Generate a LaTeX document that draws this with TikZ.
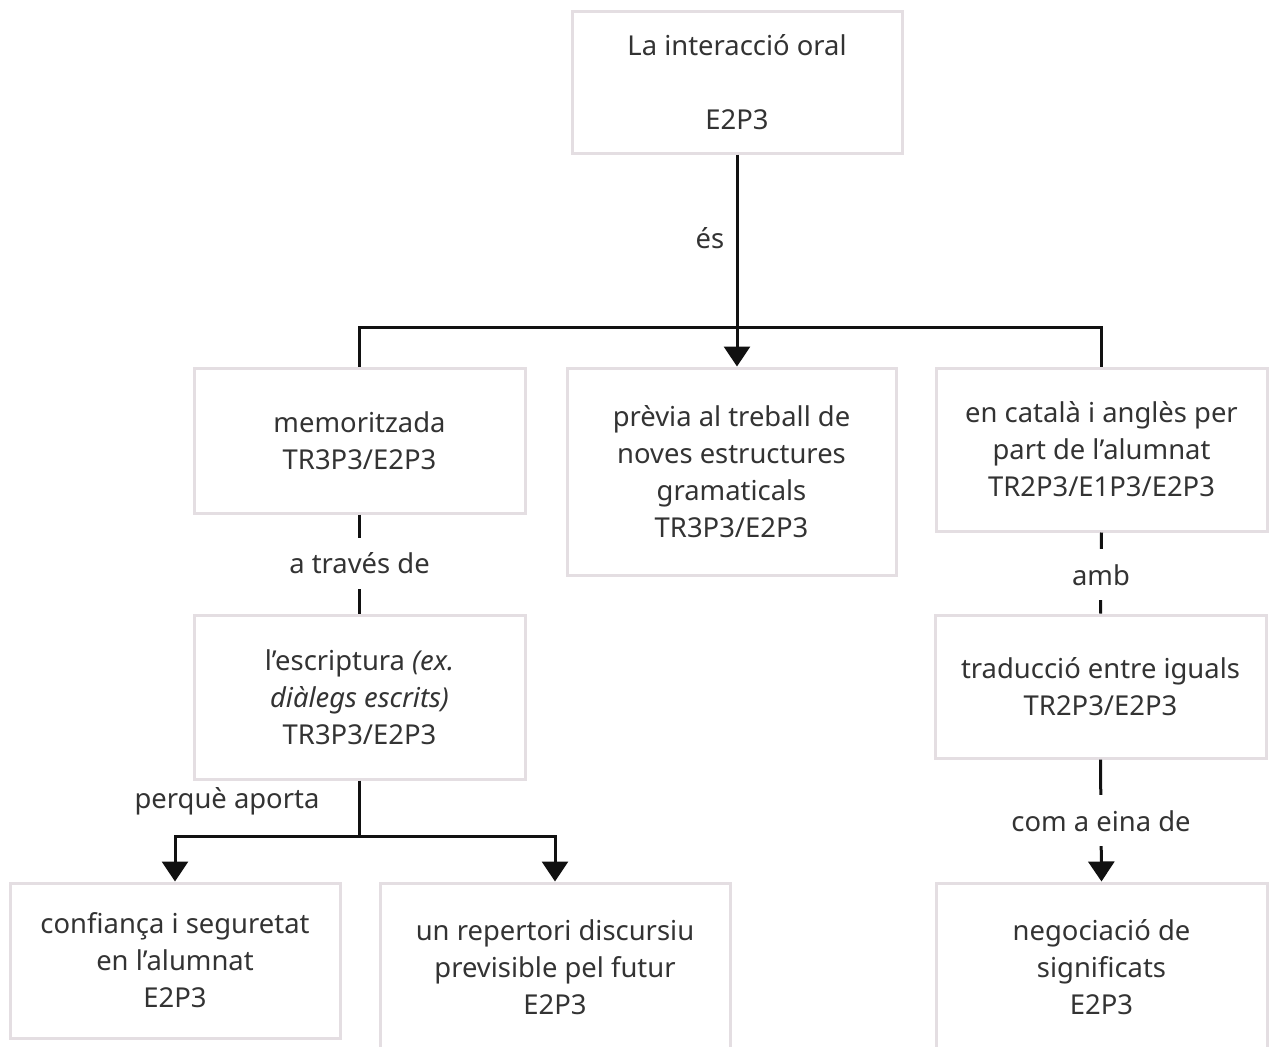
\documentclass[tikz,border=0pt]{standalone}
\usepackage{fontspec}
\setmainfont{Noto Sans}
\usetikzlibrary{arrows.meta}
\definecolor{boxc}{RGB}{228,222,226}
\definecolor{txt}{RGB}{51,51,51}
\definecolor{linec}{RGB}{17,17,17}
\begin{document}
\begin{tikzpicture}[x=0.5pt,y=-0.5pt,
  every node/.style={font=\fontsize{13.7}{18.5}\selectfont, text=txt},
  box/.style={draw=boxc, line width=1.5pt, fill=white, align=center, inner sep=0pt},
  conn/.style={draw=linec, line width=1.5pt},
  arr/.style={conn, -{Triangle[width=13pt,length=10pt]}},
  lbl/.style={fill=white, inner xsep=2pt, inner ysep=6pt, text height=12pt, text depth=1.5pt},
  plain/.style={inner sep=0pt}]
\useasboundingbox (0,0) rectangle (1271,1046);
\clip (0,0) rectangle (1271,1046);

% boxes
\node[box, minimum width=165pt, minimum height=71pt] (top) at (737,82)
  {La interacció oral\\~\\E2P3};
\node[box, minimum width=165.5pt, minimum height=72.5pt] (memo) at (359.5,440.5)
  {memoritzada\\TR3P3/E2P3};
\node[box, minimum width=164.5pt, minimum height=103.5pt] (previa) at (731.5,471.5)
  {prèvia al treball de\\noves estructures\\gramaticals\\TR3P3/E2P3};
\node[box, minimum width=165.5pt, minimum height=81.5pt] (catala) at (1101.5,449.5)
  {en català i anglès per\\part de l’alumnat\\TR2P3/E1P3/E2P3};
\node[box, minimum width=165.5pt, minimum height=82pt] (escr) at (359.5,697)
  {l’escriptura \textit{(ex.}\\\textit{diàlegs escrits)}\\TR3P3/E2P3};
\node[box, minimum width=165.5pt, minimum height=71.5pt] (trad) at (1100.5,686.5)
  {traducció entre iguals\\TR2P3/E2P3};
\node[box, minimum width=165pt, minimum height=77.5pt] (conf) at (175,960.5)
  {confiança i seguretat\\en l’alumnat\\E2P3};
\node[box, minimum width=175pt, minimum height=84pt] (rep) at (555,967)
  {un repertori discursiu\\previsible pel futur\\E2P3};
\node[box, minimum width=165.5pt, minimum height=84pt] (neg) at (1101.5,967)
  {negociació de\\significats\\E2P3};

% branching from the top box
\coordinate (hub) at (737,327);
\draw[conn] (memo.north) -- (memo.north |- hub) -- (catala.north |- hub) -- (catala.north);
\draw[arr] (top.south) -- (top.south |- previa.north);
\node[plain] (es) at (710,238) {és};

% left column
\draw[conn] (memo.south) -- (escr.north)
  node[lbl, pos=0.49] (atraves) {a través de};
\coordinate (split) at (359.5,836);
\draw[conn] (escr.south) -- (split);
\draw[arr] (split) -| (conf.north);
\draw[arr] (split) -| (rep.north);
\node[plain] (perque) at (227,801) {perquè aporta};

% right column
\draw[conn] (catala.south) -- (trad.north)
  node[lbl, pos=0.52] (amb) {amb};
\draw[arr] (trad.south) -- (neg.north)
  node[lbl, pos=0.5] (eina) {com a eina de};
\end{tikzpicture}
\end{document}
